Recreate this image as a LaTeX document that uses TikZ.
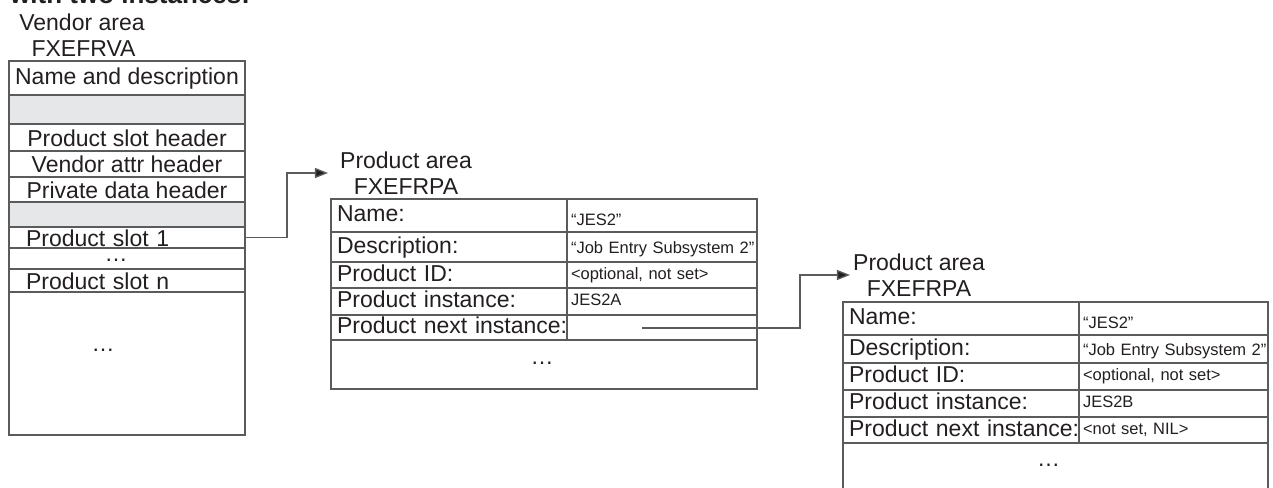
\documentclass[tikz,border=0pt]{standalone}
\usepackage{fontspec}
\setmainfont{Liberation Sans}
\usetikzlibrary{arrows.meta}
\definecolor{linec}{HTML}{5A5B5D}
\definecolor{txtc}{HTML}{231F20}
\definecolor{grayf}{HTML}{E6E7E8}
\begin{document}
\begin{tikzpicture}[x=1pt,y=-1pt,
  cellbase/.style={draw=linec, line width=1.3pt, anchor=north west, inner sep=0pt, outer sep=0pt, text=txtc},
  bigfont/.style={font=\fontsize{23}{26}\selectfont, text height=16.5pt, text depth=4.5pt},
  lowfont/.style={font=\fontsize{23}{26}\selectfont, text height=19pt, text depth=2pt},
  smallfont/.style={font=\fontsize{16.5}{19}\selectfont, text height=12pt, text depth=3.5pt},
  vcell/.style={cellbase, bigfont, minimum width=236pt, minimum height=#1},
  vlcell/.style={cellbase, lowfont, minimum width=236pt, minimum height=#1},
  gcell/.style={cellbase, fill=grayf, minimum width=236pt, minimum height=#1},
  lcell/.style={cellbase, bigfont, minimum width=236pt, minimum height=#1, text width=224pt, inner xsep=6pt, align=left},
  slotcell/.style={cellbase, lowfont, minimum width=236pt, minimum height=#1, text width=202pt, inner xsep=17pt, align=left},
  valcell/.style={cellbase, smallfont, minimum height=#1, align=left},
  dotcell/.style={cellbase, minimum height=#1},
  dotsty/.style={text=txtc, font=\fontsize{23}{26}\selectfont, inner sep=0pt, anchor=base, text height=3pt, text depth=0pt},
  ttl/.style={text=txtc, font=\fontsize{23}{26}\selectfont, align=center, inner ysep=0pt},
  arr/.style={draw=linec, line width=1.3pt, -{Triangle[length=13pt,width=10pt,fill=txtc]}}
]
\useasboundingbox (0,0) rectangle (1273,487);

% cut-off heading at the top edge
\node[anchor=base west, inner sep=0pt, text=txtc, font=\bfseries\fontsize{26}{30}\selectfont] (head) at (10,4) {with two instances:};

% ---------- Vendor area ----------
\node[ttl] (vt) at (82,35) {Vendor area\\\hspace*{3pt}FXEFRVA};
\node[vcell=34pt] (v1) at (9,61) {Name and description};
\node[gcell=29pt] (v2) at (9,95) {};
\node[vlcell=27pt] (v3) at (9,124) {Product slot header};
\node[vlcell=26pt] (v4) at (9,151) {Vendor attr header};
\node[vlcell=25pt] (v5) at (9,177) {Private data header};
\node[gcell=25pt] (v6) at (9,202) {};
\node[slotcell=21pt] (v7) at (9,227) {Product slot 1};
\node[vcell=21pt] (v8) at (9,248) {};
\node[dotsty] (v8d) at ([xshift=-11pt,yshift=-3pt]v8.center) {\dots};
\node[slotcell=23pt] (v9) at (9,269) {Product slot n};
\node[vcell=143pt] (v10) at (9,292) {};
\node[dotsty] (v10d) at ([xshift=-24pt,yshift=12pt]v10.center) {\dots};

% ---------- Product area 1 ----------
\node[ttl, inner xsep=12pt] (pt1) at (406,173) {Product area\\FXEFRPA};
\node[lcell=33pt] (a1) at (331,199) {Name:};
\node[valcell=33pt, minimum width=190pt, text width=182pt, inner xsep=4pt] (a1v) at (a1.north east) {\raisebox{-6pt}{“JES2”}};
\node[lcell=30pt] (a2) at (a1.south west) {Description:};
\node[valcell=30pt, minimum width=190pt, text width=182pt, inner xsep=4pt] (a2v) at (a2.north east) {\raisebox{-2pt}{“Job Entry Subsystem 2”}};
\node[lcell=26pt] (a3) at (a2.south west) {Product ID:};
\node[valcell=26pt, minimum width=190pt, text width=182pt, inner xsep=4pt] (a3v) at (a3.north east) {<optional, not set>};
\node[lcell=27pt] (a4) at (a3.south west) {Product instance:};
\node[valcell=27pt, minimum width=190pt, text width=182pt, inner xsep=4pt] (a4v) at (a4.north east) {JES2A};
\node[lcell=25pt] (a5) at (a4.south west) {\mbox{Product next instance:}};
\node[valcell=25pt, minimum width=190pt, text width=182pt, inner xsep=4pt] (a5v) at (a5.north east) {};
\node[dotcell=49pt, minimum width=426pt] (a6) at (a5.south west) {};
\node[dotsty] (a6d) at ([xshift=-2pt,yshift=0pt]a6.center) {\dots};

% ---------- Product area 2 ----------
\node[ttl, inner xsep=3pt] (pt2) at (919,275) {Product area\\FXEFRPA};
\node[lcell=33pt] (b1) at (843,302) {Name:};
\node[valcell=33pt, minimum width=189pt, text width=181pt, inner xsep=4pt] (b1v) at (b1.north east) {\raisebox{-6pt}{“JES2”}};
\node[lcell=28pt] (b2) at (b1.south west) {Description:};
\node[valcell=28pt, minimum width=189pt, text width=181pt, inner xsep=4pt] (b2v) at (b2.north east) {\raisebox{-2pt}{“Job Entry Subsystem 2”}};
\node[lcell=27pt] (b3) at (b2.south west) {Product ID:};
\node[valcell=27pt, minimum width=189pt, text width=181pt, inner xsep=4pt] (b3v) at (b3.north east) {<optional, not set>};
\node[lcell=27pt] (b4) at (b3.south west) {Product instance:};
\node[valcell=27pt, minimum width=189pt, text width=181pt, inner xsep=4pt] (b4v) at (b4.north east) {JES2B};
\node[lcell=26pt] (b5) at (b4.south west) {\mbox{Product next instance:}};
\node[valcell=26pt, minimum width=189pt, text width=181pt, inner xsep=4pt] (b5v) at (b5.north east) {<not set, NIL>};
\node[dotcell=52pt, minimum width=425pt] (b6) at (b5.south west) {};
\node[dotsty] (b6d) at ([xshift=-7pt,yshift=3pt]b6.center) {\dots};

% ---------- connectors ----------
\coordinate (c2) at (642,328);
\draw[arr] (v7.east) -- ++(42,0) |- (pt1.west);
\draw[arr] (c2) -- ++(158,0) |- (pt2.west);
\end{tikzpicture}
\end{document}
